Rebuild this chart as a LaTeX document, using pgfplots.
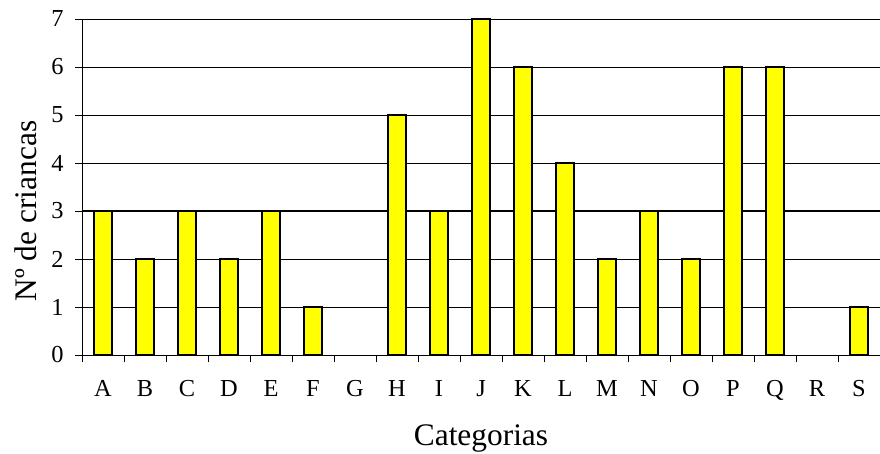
\documentclass[border=0pt]{standalone}
\usepackage{pgfplots}
\pgfplotsset{compat=1.18}
\usepackage{fontspec}
\setmainfont{Liberation Serif}

\begin{document}
\begin{tikzpicture}
\begin{axis}[
    name=ax,
    scale only axis,
    width=798bp, height=336bp,
    ymin=0, ymax=7,
    xmin=-0.5, xmax=18.5,
    ytick={0,...,7},
    xtick={0,...,18},
    xticklabels={A,B,C,D,E,F,G,H,I,J,K,L,M,N,O,P,Q,R,S},
    minor xtick={-0.5,0.5,...,17.5},
    major x tick style={draw=none},
    tick align=outside,
    major tick length=7bp,
    minor tick length=7bp,
    tick style={black, line width=0.8pt},
    axis x line*=bottom,
    axis y line*=left,
    axis line style={black, line width=0.9pt, -},
    ymajorgrids,
    grid style={black, line width=0.7pt},
    extra y ticks={3},
    extra y tick labels={},
    extra y tick style={grid style={black, line width=1.4pt}, major tick length=0pt},
    /pgf/number format/assume math mode=true,
    ticklabel style={font=\fontsize{24.5}{27}\selectfont},
    yticklabel style={xshift=-8bp},
    xticklabel style={yshift=-15bp},
    xlabel={Categorias},
    ylabel={Nº de criancas},
    label style={font=\fontsize{31.5}{34}\selectfont},
    xlabel style={yshift=-17bp},
    ylabel style={yshift=1bp, xshift=-24bp},
    ybar,
    bar width=0.42,
    clip=false,
]
\addplot[fill={rgb,255:red,255;green,255;blue,0}, draw=black, line width=1.5pt] coordinates {
(0,3) (1,2) (2,3) (3,2) (4,3) (5,1) (7,5) (8,3) (9,7)
(10,6) (11,4) (12,2) (13,3) (14,2) (15,6) (16,6) (18,1)};
\end{axis}
\pgfresetboundingbox
\path[use as bounding box] ([shift={(-82bp,-99bp)}]ax.south west) rectangle ([shift={(0bp,19bp)}]ax.north east);
\end{tikzpicture}
\end{document}
